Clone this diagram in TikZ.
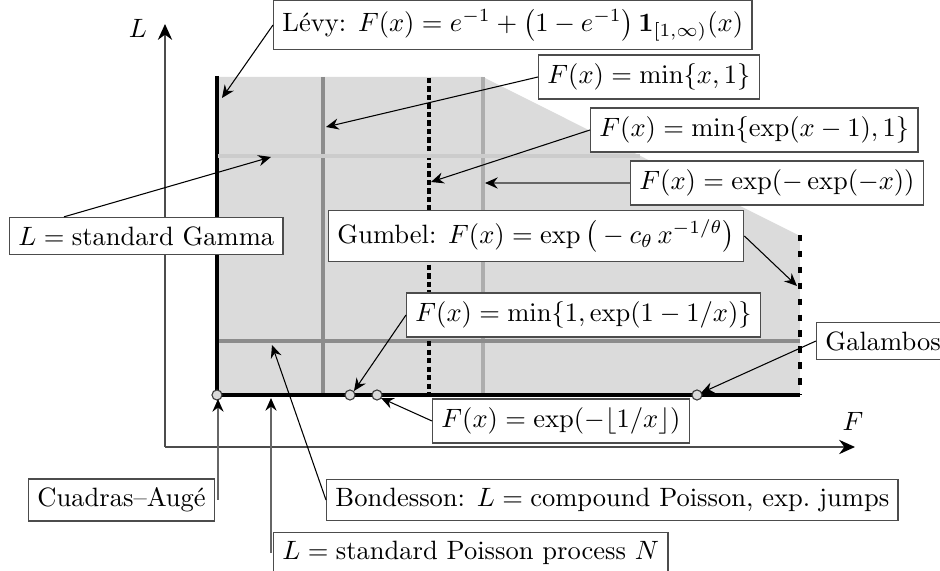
\documentclass[tikz,border=0pt]{standalone}
\usepackage{amsmath}
\usetikzlibrary{arrows.meta,calc}
\begin{document}
\begin{tikzpicture}[x=0.377pt,y=-0.377pt,
  box/.style={draw=black!70,fill=white,line width=0.5pt,anchor=west,inner sep=3.33pt},
  dotpt/.style={draw=black!80,fill=black!15,line width=0.4pt},
  ar/.style={-{Stealth[length=4.8pt,width=4.2pt,inset=1.6pt,color=black]},line width=0.4pt,black},
  garr/.style={ar,black!60,line width=0.5pt},
  axis/.style={black!70,line width=0.5pt,-{Stealth[length=6pt,width=5.4pt,inset=2pt,color=black]}}]
\useasboundingbox (0,0) rectangle (940,571);
% axes
\coordinate (O) at (165,447);
\coordinate (Ltip) at (165,24);
\coordinate (Ftip) at (855,447);
\draw[axis] (O) -- (Ltip);
\draw[axis] (O) -- (Ftip);
\node (Llab) at (138,28) {$L$};
\node (Flab) at (853,421) {$F$};
% region
\fill[black!14] (217,77) -- (483,77) -- (800,236) -- (800,395) -- (217,395) -- cycle;
% internal lines
\draw[black!45,line width=1.2pt] (323,77) -- (323,395);
\draw[black!32,line width=1.2pt] (483,77) -- (483,395);
\draw[black!45,line width=1.2pt] (217,341) -- (800,341);
\draw[black,line width=1.2pt,dash pattern=on 2pt off 1.2pt] (429,78) -- (429,395);
\draw[black,line width=1.2pt,dash pattern=on 2.4pt off 3.6pt] (800,235) -- (800,395);
\draw[black,line width=1.6pt] (217,76) -- (217,395) -- (800,395);
\draw[black!20,line width=1.2pt] (218,156) -- (640,156);
% points
\coordinate (caT) at (218,399);
\coordinate (poT) at (271,398);
\draw[dotpt] (217,395) circle (1.9pt);
\draw[dotpt] (350,395) circle (1.9pt);
\draw[dotpt] (377,395) circle (1.9pt);
\draw[dotpt] (697,395) circle (1.9pt);
% targets
\coordinate (levyT) at (222,98);
\coordinate (minxT) at (326,127);
\coordinate (minexpT) at (431,182);
\coordinate (expexpT) at (485,183);
\coordinate (gammaT) at (271,157);
\coordinate (gumbelT) at (797,286);
\coordinate (minoneT) at (354,391);
\coordinate (galT) at (701,393);
\coordinate (floorT) at (381,398);
\coordinate (bondT) at (272,345);
% boxes
\node[box] (levy) at (273,25) {L\'evy: $F(x)=e^{-1}+\bigl(1-e^{-1}\bigr)\,\mathbf{1}_{[1,\infty)}(x)$};
\node[box] (minx) at (538,77) {$F(x)=\min\{x,1\}$};
\node[box] (minexp) at (590,130) {$F(x)=\min\{\exp(x-1),1\}$};
\node[box] (expexp) at (630,183) {$F(x)=\exp(-\exp(-x))$};
\node[box] (gamma) at (9,236) {$L=\text{standard Gamma}$};
\node[box] (gumbel) at (328,236) {Gumbel: $F(x)=\exp\big(-c_\theta\,x^{-1/\theta}\big)$};
\node[box] (minone) at (406,315) {$F(x)=\min\{1,\exp(1-1/x)\}$};
\node[box] (gal) at (816,341) {Galambos};
\node[box] (floor) at (432,421) {$F(x)=\exp(-\lfloor 1/x\rfloor)$};
\node[box] (cuadras) at (28,500) {Cuadras--Aug\'e};
\node[box] (bond) at (326,500) {Bondesson: $L=\text{compound Poisson, exp.\ jumps}$};
\node[box] (poisson) at (273,553) {$L=\text{standard Poisson process }N$};
% connectors
\draw[ar] (levy.west) -- (levyT);
\draw[ar] (minx.west) -- (minxT);
\draw[ar] (minexp.west) -- (minexpT);
\draw[garr] (expexp.west) -- (expexpT);
\draw[ar] ($(gamma.north west)!0.2!(gamma.north east)$) -- (gammaT);
\draw[ar] (gumbel.east) -- (gumbelT);
\draw[ar] (minone.west) -- (minoneT);
\draw[ar] (gal.west) -- (galT);
\draw[ar] (floor.west) -- (floorT);
\draw[ar] (bond.west) -- (bondT);
\draw[garr] (caT |- cuadras.east) -- (caT);
\draw[garr] (poT |- poisson.west) -- (poT);
\end{tikzpicture}
\end{document}
